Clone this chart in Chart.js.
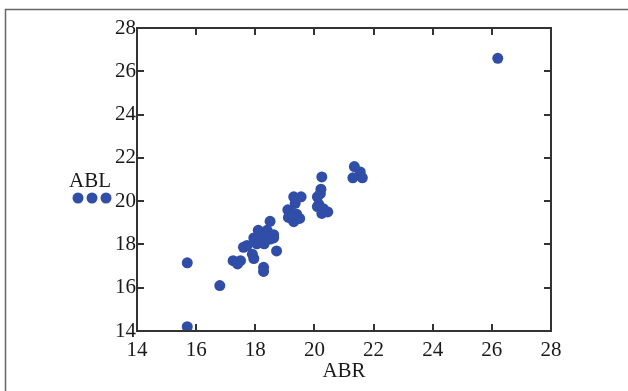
<!DOCTYPE html>
<html>
<head>
<meta charset="utf-8">
<script src="https://cdn.jsdelivr.net/npm/chart.js@4/dist/chart.umd.min.js"></script>
<style>
  html, body { margin: 0; padding: 0; background: #fff; }
  #wrap { position: relative; width: 628px; height: 391px; }
</style>
</head>
<body>
<div id="wrap"><canvas id="c" width="628" height="391"></canvas></div>
<script>
// ---- Data ----
const seriesName = "ABL";
const xTitle = "ABR";
const abr = [15.70, 15.70, 16.80, 17.25, 17.40, 17.50, 17.60, 17.72, 17.90, 17.95,
             17.95, 18.05, 18.10, 18.25, 18.30, 18.40, 18.50, 18.62, 18.28, 18.28,
             18.50, 18.72, 18.62, 19.10, 19.12, 19.20, 19.30, 19.35, 19.40, 19.50,
             19.30, 19.55, 20.25, 20.22, 20.20, 20.10, 20.15, 20.10, 20.30, 20.25,
             20.45, 21.35, 21.55, 21.30, 21.62, 26.20, 18.20, 19.25];
const abl = [14.20, 17.15, 16.10, 17.25, 17.10, 17.25, 17.87, 17.95, 17.55, 17.35,
             18.30, 18.03, 18.65, 18.35, 18.03, 18.65, 18.25, 18.45, 16.94, 16.75,
             19.07, 17.70, 18.30, 19.60, 19.25, 19.55, 19.05, 19.90, 19.40, 19.20,
             20.20, 20.20, 21.12, 20.55, 20.35, 20.20, 19.85, 19.75, 19.65, 19.43,
             19.50, 21.60, 21.35, 21.08, 21.08, 26.60, 18.20, 19.30];
const xTicks = [14, 16, 18, 20, 22, 24, 26, 28];
const yTicks = [14, 16, 18, 20, 22, 24, 26, 28];

const points = abr.map((x, i) => ({ x: x, y: abl[i] }));
const dotColor = "rgb(48,78,168)";
const inkColor = "#1a1a1a";
const fontFamily = "'Liberation Serif', 'DejaVu Serif', serif";

const framePlugin = {
  id: "frame",
  beforeDraw(chart) {
    const ctx = chart.ctx;
    ctx.save();
    ctx.strokeStyle = "#666";
    ctx.lineWidth = 1.5;
    ctx.beginPath();
    ctx.moveTo(5.5, 391);
    ctx.lineTo(5.5, 9.5);
    ctx.lineTo(628, 9.5);
    ctx.stroke();
    ctx.restore();
  },
  afterDraw(chart) {
    const ctx = chart.ctx;
    const a = chart.chartArea;
    const xs = chart.scales.x, ys = chart.scales.y;
    ctx.save();
    ctx.strokeStyle = "#333";
    ctx.lineWidth = 2;
    ctx.strokeRect(a.left, a.top, a.right - a.left, a.bottom - a.top);
    const len = 7;
    ctx.beginPath();
    xTicks.forEach(v => {
      const px = Math.round(xs.getPixelForValue(v));
      ctx.moveTo(px, a.bottom); ctx.lineTo(px, a.bottom - len);
      ctx.moveTo(px, a.top); ctx.lineTo(px, a.top + len);
    });
    yTicks.forEach(v => {
      const py = Math.round(ys.getPixelForValue(v));
      ctx.moveTo(a.left, py); ctx.lineTo(a.left + len, py);
      ctx.moveTo(a.right, py); ctx.lineTo(a.right - len, py);
    });
    ctx.stroke();
    // legend at left
    ctx.fillStyle = inkColor;
    ctx.font = "21px " + fontFamily;
    ctx.textAlign = "center";
    ctx.textBaseline = "middle";
    ctx.fillText(seriesName, 90, 181);
    ctx.fillStyle = dotColor;
    [78, 92, 106].forEach(cx => {
      ctx.beginPath();
      ctx.arc(cx, 198, 5.5, 0, Math.PI * 2);
      ctx.fill();
    });
    ctx.restore();
  }
};

new Chart(document.getElementById("c"), {
  type: "scatter",
  data: {
    datasets: [{
      label: seriesName,
      data: points,
      backgroundColor: dotColor,
      borderColor: dotColor,
      pointRadius: 5.5,
      pointBorderWidth: 0
    }]
  },
  options: {
    responsive: false,
    animation: false,
    layout: { padding: { left: 5, top: 28, right: 77, bottom: 0 } },
    plugins: { legend: { display: false }, tooltip: { enabled: false } },
    scales: {
      x: {
        type: "linear", min: 14, max: 28,
        afterBuildTicks: s => { s.ticks = xTicks.map(v => ({ value: v })); },
        afterFit: s => { s.height = 60; },
        grid: { display: false, drawTicks: false },
        border: { display: false },
        ticks: { color: inkColor, padding: 7, font: { family: fontFamily, size: 21 } },
        title: { display: true, text: xTitle, color: inkColor, padding: { top: 0, bottom: 7 }, font: { family: fontFamily, size: 21 } }
      },
      y: {
        type: "linear", min: 14, max: 28,
        afterBuildTicks: s => { s.ticks = yTicks.map(v => ({ value: v })); },
        afterFit: s => { s.width = 132; },
        grid: { display: false, drawTicks: false },
        border: { display: false },
        ticks: { color: inkColor, padding: 1, font: { family: fontFamily, size: 21 } }
      }
    }
  },
  plugins: [framePlugin]
});
</script>
</body>
</html>
